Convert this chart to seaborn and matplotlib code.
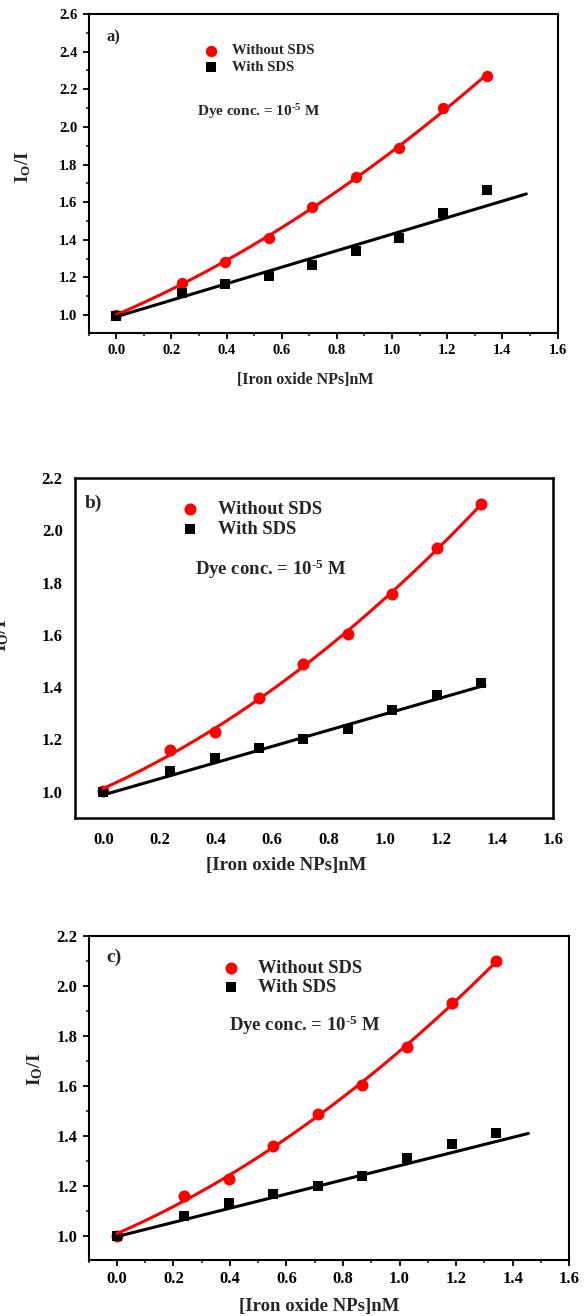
import numpy as np
import pandas as pd
import matplotlib
matplotlib.use('Agg')
import matplotlib.pyplot as plt
import seaborn as sns
from matplotlib.ticker import MultipleLocator, FormatStrFormatter

# ---------------- data ----------------
conc = [0.0, 0.237, 0.396, 0.553, 0.711, 0.869, 1.027, 1.185, 1.343]
a_without = [1.0, 1.173, 1.281, 1.411, 1.575, 1.733, 1.890, 2.099, 2.269]
a_with = [0.997, 1.117, 1.166, 1.209, 1.264, 1.338, 1.407, 1.545, 1.662]
b_without = [1.003, 1.160, 1.228, 1.360, 1.487, 1.603, 1.757, 1.933, 2.101]
b_with = [1.0, 1.080, 1.127, 1.168, 1.201, 1.239, 1.313, 1.370, 1.415]
c_without = [1.0, 1.161, 1.229, 1.361, 1.487, 1.603, 1.756, 1.933, 2.099]
c_with = [1.0, 1.080, 1.131, 1.168, 1.201, 1.240, 1.312, 1.368, 1.413]

# linear fit of "With SDS": intercept, slope, x range
a_with_fit = [0.991, 0.439]
b_with_fit = [0.987, 0.3095]
c_with_fit = [0.998, 0.283]
a_fit_range = [0.0, 1.487]
b_fit_range = [0.0, 1.357]
c_fit_range = [-0.01, 1.456]

xticks = [0.0, 0.2, 0.4, 0.6, 0.8, 1.0, 1.2, 1.4, 1.6]
a_yticks = [1.0, 1.2, 1.4, 1.6, 1.8, 2.0, 2.2, 2.4, 2.6]
bc_yticks = [1.0, 1.2, 1.4, 1.6, 1.8, 2.0, 2.2]

panel_labels = ['a)', 'b)', 'c)']
legend_labels = ['Without SDS', 'With SDS']
xlabel = '[Iron oxide NPs]nM'
ylabel = r'$\mathbf{I_O/I}$'
dye_text = r'Dye conc. = 10$^{\text{-5}}$ M'

# ---------------- style ----------------
sns.set_style('ticks')
plt.rcParams['font.family'] = ['Liberation Serif', 'DejaVu Serif']
plt.rcParams['font.weight'] = 'bold'
plt.rcParams['axes.labelweight'] = 'bold'
plt.rcParams['mathtext.fontset'] = 'custom'
plt.rcParams['mathtext.rm'] = 'Liberation Serif:bold'
plt.rcParams['mathtext.bf'] = 'Liberation Serif:bold'
plt.rcParams['mathtext.it'] = 'Liberation Serif:bold:italic'
plt.rcParams['mathtext.default'] = 'bf'

RED = '#ff0000'
BLACK = '#000000'

fig = plt.figure(figsize=(5.86, 13.16), dpi=100)

panels = [
    dict(rect=[0.1512, 0.7470, 0.8002, 0.2424], without=a_without, with_=a_with,
         fit=a_with_fit, frange=a_fit_range, ylim=(0.905, 2.6), yticks=a_yticks,
         ticks=True, spine=1.5, tick_fs=10.5, lab_fs=11.5, ylab_fs=13.5, leg_fs=10.5,
         dye_fs=11.0, pl_fs=12, ms=(67, 52), xlab=(0.461, -0.147), ylab=(-0.140, 0.521),
         leg=(0.2446, 0.858), lsp=0.25, dye=(0.2305, 0.6937), pl=(0.038, 0.926)),
    dict(rect=[0.1282, 0.3787, 0.8162, 0.2579], without=b_without, with_=b_with,
         fit=b_with_fit, frange=b_fit_range, ylim=(0.9, 2.2), yticks=bc_yticks,
         ticks=False, spine=1.8, tick_fs=12, lab_fs=13.5, ylab_fs=14, leg_fs=13.3,
         dye_fs=13.5, pl_fs=14, ms=(75, 55), xlab=(0.442, -0.142), ylab=(-0.155, 0.538),
         leg=(0.2214, 0.8795), lsp=0.15, dye=(0.2515, 0.7319), pl=(0.0211, 0.9263)),
    dict(rect=[0.1512, 0.0423, 0.8200, 0.2467], without=c_without, with_=c_with,
         fit=c_with_fit, frange=c_fit_range, ylim=(0.903, 2.2), yticks=bc_yticks,
         ticks=True, spine=1.5, tick_fs=12, lab_fs=13.5, ylab_fs=14, leg_fs=13.3,
         dye_fs=13.5, pl_fs=14, ms=(75, 55), xlab=(0.4805, -0.143), ylab=(-0.112, 0.589),
         leg=(0.2764, 0.8703), lsp=0.12, dye=(0.2916, 0.7249), pl=(0.0372, 0.9335)),
]

for i, p in enumerate(panels):
    ax = fig.add_axes(p['rect'])
    df = pd.DataFrame({'x': conc, 'without': p['without'], 'with': p['with_']})

    # markers
    sns.scatterplot(data=df, x='x', y='without', ax=ax, color=RED, marker='o',
                    s=p['ms'][0], linewidth=0, label=legend_labels[0], zorder=3)
    sns.scatterplot(data=df, x='x', y='with', ax=ax, color=BLACK, marker='s',
                    s=p['ms'][1], linewidth=0, label=legend_labels[1], zorder=4)

    # quadratic fit of "Without SDS"
    coef = np.polyfit(conc, p['without'], 2)
    xf = np.linspace(conc[0], conc[-1], 200)
    sns.lineplot(x=xf, y=np.polyval(coef, xf), ax=ax, color=RED, linewidth=2.2,
                 zorder=5, legend=False)
    # linear fit of "With SDS"
    xl = np.array(p['frange'])
    sns.lineplot(x=xl, y=p['fit'][0] + p['fit'][1] * xl, ax=ax, color=BLACK,
                 linewidth=2.2, zorder=5, legend=False)

    ax.set_xlim(-0.1, 1.6)
    ax.set_ylim(*p['ylim'])
    ax.set_xticks(xticks)
    ax.set_yticks(p['yticks'])
    ax.xaxis.set_major_formatter(FormatStrFormatter('%.1f'))
    ax.yaxis.set_major_formatter(FormatStrFormatter('%.1f'))

    for s in ax.spines.values():
        s.set_visible(True)
        s.set_linewidth(p['spine'])
        s.set_color(BLACK)

    if p['ticks']:
        ax.xaxis.set_minor_locator(MultipleLocator(0.1))
        ax.yaxis.set_minor_locator(MultipleLocator(0.1))
        ax.tick_params(which='major', direction='out', length=4.5, width=1.3,
                       top=False, right=False, pad=3.5, labelsize=p['tick_fs'],
                       colors=BLACK)
        ax.tick_params(which='minor', direction='out', length=2.3, width=1.2,
                       top=False, right=False)
    else:
        ax.tick_params(which='major', length=0, pad=9, labelsize=p['tick_fs'],
                       colors=BLACK)
        ax.tick_params(axis='x', pad=10)
    for lab in ax.get_xticklabels() + ax.get_yticklabels():
        lab.set_fontweight('bold')

    ax.set_xlabel(xlabel, fontsize=p['lab_fs'], fontweight='bold', va='center')
    ax.xaxis.set_label_coords(*p['xlab'])
    ax.set_ylabel(ylabel, fontsize=p['ylab_fs'], fontweight='bold', va='center')
    ax.yaxis.set_label_coords(*p['ylab'])

    ax.legend(loc='center left', bbox_to_anchor=p['leg'], frameon=False,
              handlelength=1.0, handletextpad=1.0, borderpad=0, borderaxespad=0,
              labelspacing=p['lsp'], prop={'size': p['leg_fs'], 'weight': 'bold'})

    ax.text(p['dye'][0], p['dye'][1], dye_text, transform=ax.transAxes,
            ha='left', va='center', fontsize=p['dye_fs'], fontweight='bold')
    ax.text(p['pl'][0], p['pl'][1], panel_labels[i], transform=ax.transAxes,
            ha='left', va='center', fontsize=p['pl_fs'], fontweight='bold')

fig.savefig('out.png', dpi=100)
